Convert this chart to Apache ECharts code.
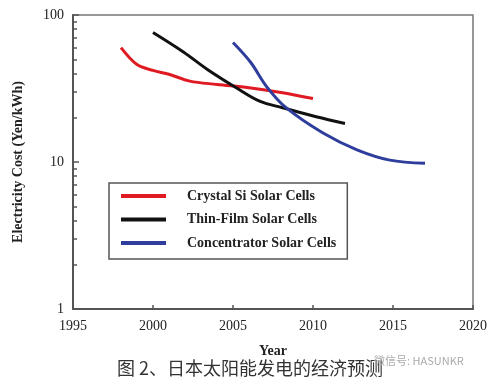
<!DOCTYPE html>
<html>
<head>
<meta charset="utf-8">
<script src="https://cdn.jsdelivr.net/npm/echarts@6/dist/echarts.min.js"></script>
<style>html,body{margin:0;padding:0;background:#fff;}#c{width:491px;height:391px;}</style>
</head>
<body>
<div id="c"></div>
<script>
const seriesNames = ['Crystal Si Solar Cells', 'Thin-Film Solar Cells', 'Concentrator Solar Cells'];
const crystalYears = [1998, 1999, 2000, 2001, 2002.3, 2004, 2006, 2008, 2010];
const crystalCost = [60, 46, 42, 39.5, 35.5, 33.7, 32, 29.7, 27];
const thinYears = [2000, 2001.9, 2003.4, 2005.2, 2006.7, 2008.1, 2010.2, 2012];
const thinCost = [76, 56, 42.6, 32, 25.8, 23.4, 20.3, 18.3];
const concYears = [2005, 2006.1, 2007.1, 2008.3, 2010.6, 2012.75, 2014.8, 2017];
const concCost = [65, 47.7, 32.6, 23.5, 15.8, 12.1, 10.3, 9.8];
const xTicks = [1995, 2000, 2005, 2010, 2015, 2020];
const yTicks = [1, 10, 100];
const yMinorTicks = [2, 3, 4, 5, 6, 7, 8, 9, 20, 30, 40, 50, 60, 70, 80, 90];
const colors = ['#e01a22', '#111111', '#2f3d9c'];
const caption = '图 2、日本太阳能发电的经济预测';
const watermark = '微信号: HASUNKR';

const zip = (xs, ys) => xs.map((x, i) => [x, ys[i]]);
const serif = 'Liberation Serif';

const chart = echarts.init(document.getElementById('c'));
chart.setOption({
  animation: false,
  backgroundColor: '#fff',
  grid: { left: 73, top: 15, right: 18, bottom: 82, show: true, borderColor: '#777', borderWidth: 1.5 },
  xAxis: {
    type: 'value', min: 1995, max: 2020, interval: 5,
    name: 'Year', nameLocation: 'middle', nameGap: 35,
    nameTextStyle: { fontFamily: serif, fontWeight: 'bold', fontSize: 14, color: '#222' },
    axisLine: { lineStyle: { color: '#555', width: 2 } },
    axisTick: { inside: true, length: 4, lineStyle: { color: '#555', width: 1.5 } },
    axisLabel: { margin: 10, fontFamily: serif, fontSize: 14, color: '#222', formatter: v => String(v) },
    splitLine: { show: false }
  },
  yAxis: [{
    type: 'log', logBase: 10, min: 1, max: 100,
    name: 'Electricity Cost (Yen/kWh)', nameLocation: 'middle', nameGap: 48,
    nameTextStyle: { fontFamily: serif, fontWeight: 'bold', fontSize: 14, color: '#222' },
    axisLine: { show: true, lineStyle: { color: '#555', width: 2 } },
    axisTick: { inside: true, length: 6, lineStyle: { color: '#555', width: 1.5 } },
    axisLabel: { margin: 9, fontFamily: serif, fontSize: 14, color: '#222' },
    splitLine: { show: false }
  }, {
    type: 'log', logBase: 10, min: 1, max: 100, position: 'left',
    axisLine: { show: false },
    axisTick: { inside: true, length: 4, customValues: yMinorTicks, lineStyle: { color: '#555', width: 1.5 } },
    axisLabel: { show: false },
    splitLine: { show: false }
  }],
  legend: {
    orient: 'vertical', left: 109, top: 183,
    data: seriesNames,
    icon: 'rect', itemWidth: 45, itemHeight: 4, itemGap: 9.5,
    padding: [6, 11, 9, 12],
    borderColor: '#555', borderWidth: 1.5,
    textStyle: { fontFamily: serif, fontSize: 14, fontWeight: 'bold', color: '#222', lineHeight: 14, padding: [0, 0, 0, 16] }
  },
  series: [
    { name: seriesNames[0], type: 'line', smooth: 0.35, showSymbol: false, data: zip(crystalYears, crystalCost), lineStyle: { width: 3, color: colors[0] }, itemStyle: { color: colors[0] } },
    { name: seriesNames[1], type: 'line', smooth: 0.35, showSymbol: false, data: zip(thinYears, thinCost), lineStyle: { width: 3, color: colors[1] }, itemStyle: { color: colors[1] } },
    { name: seriesNames[2], type: 'line', smooth: 0.35, showSymbol: false, data: zip(concYears, concCost), lineStyle: { width: 3, color: colors[2] }, itemStyle: { color: colors[2] } }
  ],
  graphic: [
    { type: 'text', left: 117, top: 359, style: { text: caption, fontFamily: 'Noto Sans CJK SC', fontSize: 18, fill: '#333' } },
    { type: 'text', left: 374, top: 355, style: { text: watermark, fontFamily: 'Noto Sans CJK SC', fontSize: 11, fill: '#aaa' } }
  ]
});
</script>
</body>
</html>
